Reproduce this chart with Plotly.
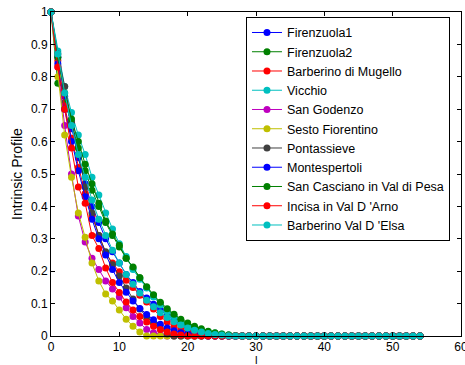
import plotly.graph_objects as go

N = 55
x = list(range(N))

def pad(vals):
    return vals + [0.0] * (N - len(vals))

names = ["Firenzuola1", "Firenzuola2", "Barberino di Mugello", "Vicchio", "San Godenzo",
         "Sesto Fiorentino", "Pontassieve", "Montespertoli", "San Casciano in Val di Pesa",
         "Incisa in Val D 'Arno", "Barberino Val D 'Elsa"]
colors = ["#0000FF", "#008000", "#FF0000", "#00BFBF", "#BF00BF", "#BFBF00", "#404040",
          "#0000FF", "#008000", "#FF0000", "#00BFBF"]

firenzuola1 = [1, 0.86, 0.74, 0.64, 0.55, 0.47, 0.40, 0.35, 0.30, 0.26, 0.225, 0.19, 0.165, 0.137,
               0.117, 0.098, 0.08, 0.063, 0.048, 0.036, 0.026, 0.018, 0.012, 0.007, 0.004, 0.002, 0.001]
firenzuola2 = [1, 0.78, 0.72, 0.66, 0.58, 0.51, 0.45, 0.40, 0.35, 0.31, 0.275, 0.24, 0.21, 0.18, 0.15,
               0.125, 0.10, 0.08, 0.063, 0.048, 0.036, 0.026, 0.018, 0.012, 0.008, 0.005, 0.003, 0.001]
barberino_mugello = [1, 0.85, 0.71, 0.61, 0.52, 0.44, 0.37, 0.31, 0.255, 0.225, 0.198, 0.172, 0.15,
                     0.126, 0.105, 0.083, 0.06, 0.043, 0.03, 0.02, 0.014, 0.008, 0.004, 0.002, 0.001]
vicchio = [1, 0.88, 0.77, 0.69, 0.62, 0.56, 0.49, 0.435, 0.38, 0.33, 0.285, 0.245, 0.205, 0.175, 0.148,
           0.12, 0.096, 0.075, 0.06, 0.047, 0.035, 0.026, 0.019, 0.013, 0.009, 0.006, 0.003, 0.001]
san_godenzo = [1, 0.83, 0.65, 0.50, 0.37, 0.29, 0.24, 0.205, 0.17, 0.145, 0.12, 0.087, 0.06, 0.04,
               0.02, 0.01, 0.003]
sesto = [1, 0.80, 0.62, 0.49, 0.38, 0.305, 0.225, 0.17, 0.13, 0.108, 0.08, 0.052, 0.03, 0.012]
pontassieve = [1, 0.87, 0.77, 0.66, 0.56, 0.46, 0.38, 0.31, 0.26, 0.22, 0.185, 0.148, 0.114, 0.083,
               0.059, 0.04, 0.022, 0.006]
montespertoli = [1, 0.84, 0.70, 0.60, 0.51, 0.43, 0.36, 0.30, 0.25, 0.205, 0.165, 0.135, 0.108, 0.085,
                 0.066, 0.05, 0.036, 0.025, 0.016, 0.01, 0.006, 0.003, 0.001]
san_casciano = [1, 0.86, 0.75, 0.67, 0.60, 0.53, 0.47, 0.41, 0.355, 0.315, 0.28, 0.24, 0.213, 0.18,
                0.152, 0.127, 0.104, 0.084, 0.067, 0.052, 0.04, 0.03, 0.022, 0.015, 0.01, 0.006, 0.003, 0.001]
incisa = [1, 0.83, 0.70, 0.58, 0.46, 0.41, 0.31, 0.27, 0.21, 0.165, 0.134, 0.105, 0.08, 0.06, 0.043,
          0.03, 0.02, 0.012, 0.006, 0.003, 0.001]
barberino_elsa = [1, 0.87, 0.75, 0.65, 0.56, 0.49, 0.42, 0.36, 0.31, 0.265, 0.225, 0.19, 0.16, 0.133,
                  0.11, 0.09, 0.072, 0.057, 0.044, 0.034, 0.025, 0.018, 0.012, 0.008, 0.005, 0.003, 0.001]

series = [firenzuola1, firenzuola2, barberino_mugello, vicchio, san_godenzo, sesto, pontassieve,
          montespertoli, san_casciano, incisa, barberino_elsa]

xticks = [0, 10, 20, 30, 40, 50, 60]
yticks = [0, 0.1, 0.2, 0.3, 0.4, 0.5, 0.6, 0.7, 0.8, 0.9, 1]
ytick_text = ["0", "0.1", "0.2", "0.3", "0.4", "0.5", "0.6", "0.7", "0.8", "0.9", "1"]
x_title = "l"
y_title = "Intrinsic Profile"

fig = go.Figure()
for name, col, vals in zip(names, colors, series):
    fig.add_trace(go.Scatter(
        x=x, y=pad(vals), name=name, mode="lines+markers",
        line=dict(color=col, width=1),
        marker=dict(color=col, size=7),
        cliponaxis=False,
    ))

axis_common = dict(showline=True, linecolor="black", linewidth=1, mirror="ticks",
                   ticks="inside", ticklen=4, tickcolor="black", showgrid=False,
                   zeroline=False, automargin=False, ticklabeloverflow="allow",
                   tickfont=dict(size=12, color="black"))

fig.update_layout(
    width=465, height=365,
    margin=dict(l=51, r=4, t=12, b=29),
    paper_bgcolor="white", plot_bgcolor="white",
    font=dict(family="Liberation Sans, Arial, sans-serif", size=12, color="black"),
    xaxis=dict(range=[0, 60], tickvals=xticks, **axis_common),
    yaxis=dict(range=[0, 1], tickvals=yticks, ticktext=ytick_text,
               title=dict(text=y_title, standoff=5), **axis_common),
    legend=dict(x=0.4756, y=0.985, xanchor="left", yanchor="top",
                bgcolor="white", bordercolor="black", borderwidth=1,
                font=dict(size=12.5), tracegroupgap=0, itemwidth=30),
    showlegend=True,
    annotations=[dict(text=x_title, xref="paper", yref="paper", x=0.5, y=-0.05,
                      xanchor="center", yanchor="top", showarrow=False,
                      font=dict(size=11.5, color="black"))],
)

fig.write_html("out.html", config={"displayModeBar": False},
               post_script="document.body.style.margin='0';")
